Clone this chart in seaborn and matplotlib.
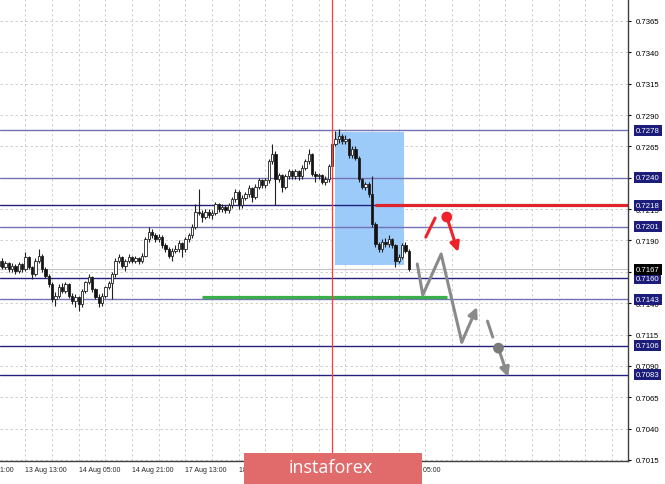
#AUD/USD H1 - fractal levels
import matplotlib
matplotlib.use('Agg')
import matplotlib.pyplot as plt
from matplotlib.patches import Rectangle
import seaborn as sns

#data (bar index, price)
opens = [0.7170, 0.7174, 0.7169, 0.7172, 0.7167, 0.7170, 0.7166, 0.7171, 0.7167, 0.7177,
         0.7169, 0.7163, 0.7174, 0.7178, 0.7167, 0.7162, 0.7155, 0.7143, 0.7146, 0.7153,
         0.7150, 0.7155, 0.7146, 0.7142, 0.7145, 0.7139, 0.7150, 0.7157, 0.7161, 0.7151,
         0.7145, 0.7140, 0.7146, 0.7153, 0.7156, 0.7163, 0.7174, 0.7177, 0.7170, 0.7174,
         0.7177, 0.7174, 0.7176, 0.7174, 0.7178, 0.7191, 0.7197, 0.7194, 0.7191, 0.7193,
         0.7186, 0.7183, 0.7178, 0.7182, 0.7183, 0.7188, 0.7183, 0.7191, 0.7194, 0.7201,
         0.7213, 0.7212, 0.7209, 0.7213, 0.7210, 0.7212, 0.7219, 0.7215, 0.7217, 0.7214,
         0.7218, 0.7223, 0.7229, 0.7218, 0.7224, 0.7227, 0.7232, 0.7225, 0.7233, 0.7238,
         0.7234, 0.7238, 0.7253, 0.7259, 0.7239, 0.7242, 0.7233, 0.7241, 0.7245, 0.7241,
         0.7245, 0.7241, 0.7248, 0.7253, 0.7259, 0.7243, 0.7241, 0.7242, 0.7237, 0.7239,
         0.7249, 0.7267, 0.7271, 0.7273, 0.7269, 0.7271, 0.7258, 0.7263, 0.7256, 0.7239,
         0.7233, 0.7235, 0.7227, 0.7203, 0.7187, 0.7183, 0.7189, 0.7187, 0.7191, 0.7186,
         0.7174, 0.7177, 0.7186, 0.7182]
highs = [0.7176, 0.7176, 0.7174, 0.7173, 0.7172, 0.7171, 0.7173, 0.7172, 0.7181, 0.7178,
         0.7170, 0.7176, 0.7183, 0.7179, 0.7169, 0.7163, 0.7157, 0.7149, 0.7155, 0.7156,
         0.7157, 0.7156, 0.7148, 0.7147, 0.7146, 0.7151, 0.7158, 0.7163, 0.7162, 0.7152,
         0.7147, 0.7148, 0.7154, 0.7158, 0.7165, 0.7176, 0.7179, 0.7178, 0.7175, 0.7179,
         0.7178, 0.7178, 0.7177, 0.7180, 0.7193, 0.7201, 0.7199, 0.7196, 0.7195, 0.7194,
         0.7188, 0.7185, 0.7184, 0.7186, 0.7190, 0.7189, 0.7193, 0.7196, 0.7203, 0.7219,
         0.7231, 0.7214, 0.7215, 0.7215, 0.7214, 0.7221, 0.7220, 0.7219, 0.7218, 0.7220,
         0.7225, 0.7231, 0.7230, 0.7226, 0.7229, 0.7234, 0.7233, 0.7235, 0.7240, 0.7239,
         0.7240, 0.7255, 0.7267, 0.7261, 0.7244, 0.7243, 0.7243, 0.7247, 0.7246, 0.7247,
         0.7246, 0.7250, 0.7255, 0.7263, 0.7260, 0.7245, 0.7244, 0.7243, 0.7241, 0.7251,
         0.7268, 0.7277, 0.7279, 0.7275, 0.7274, 0.7272, 0.7265, 0.7265, 0.7257, 0.7240,
         0.7237, 0.7237, 0.7241, 0.7205, 0.7189, 0.7191, 0.7192, 0.7194, 0.7192, 0.7187,
         0.7179, 0.7188, 0.7189, 0.7183]
lows = [0.7168, 0.7167, 0.7167, 0.7165, 0.7165, 0.7163, 0.7164, 0.7165, 0.7166, 0.7167,
        0.7159, 0.7162, 0.7172, 0.7165, 0.7160, 0.7153, 0.7141, 0.7138, 0.7144, 0.7148,
        0.7148, 0.7144, 0.7139, 0.7137, 0.7134, 0.7137, 0.7148, 0.7155, 0.7149, 0.7143,
        0.7137, 0.7138, 0.7144, 0.7151, 0.7143, 0.7161, 0.7172, 0.7168, 0.7166, 0.7172,
        0.7172, 0.7172, 0.7171, 0.7172, 0.7177, 0.7189, 0.7192, 0.7189, 0.7189, 0.7184,
        0.7181, 0.7176, 0.7174, 0.7180, 0.7181, 0.7177, 0.7181, 0.7189, 0.7192, 0.7199,
        0.7210, 0.7205, 0.7207, 0.7208, 0.7207, 0.7210, 0.7213, 0.7213, 0.7212, 0.7212,
        0.7216, 0.7221, 0.7215, 0.7216, 0.7222, 0.7225, 0.7221, 0.7223, 0.7231, 0.7232,
        0.7232, 0.7236, 0.7251, 0.7218, 0.7237, 0.7229, 0.7231, 0.7239, 0.7239, 0.7239,
        0.7238, 0.7239, 0.7246, 0.7251, 0.7241, 0.7237, 0.7239, 0.7235, 0.7234, 0.7237,
        0.7247, 0.7265, 0.7268, 0.7267, 0.7267, 0.7256, 0.7256, 0.7254, 0.7237, 0.7231,
        0.7230, 0.7225, 0.7201, 0.7185, 0.7181, 0.7181, 0.7185, 0.7185, 0.7184, 0.7169,
        0.7172, 0.7175, 0.7180, 0.7166]
closes = [0.7174, 0.7169, 0.7172, 0.7167, 0.7170, 0.7166, 0.7171, 0.7167, 0.7177, 0.7169,
          0.7163, 0.7174, 0.7178, 0.7167, 0.7162, 0.7155, 0.7143, 0.7146, 0.7153, 0.7150,
          0.7155, 0.7146, 0.7142, 0.7145, 0.7139, 0.7150, 0.7157, 0.7161, 0.7151, 0.7145,
          0.7140, 0.7146, 0.7153, 0.7156, 0.7163, 0.7174, 0.7177, 0.7170, 0.7174, 0.7177,
          0.7174, 0.7176, 0.7174, 0.7178, 0.7191, 0.7197, 0.7194, 0.7191, 0.7193, 0.7186,
          0.7183, 0.7178, 0.7182, 0.7183, 0.7188, 0.7183, 0.7191, 0.7194, 0.7201, 0.7213,
          0.7212, 0.7209, 0.7213, 0.7210, 0.7212, 0.7219, 0.7215, 0.7217, 0.7214, 0.7218,
          0.7223, 0.7229, 0.7218, 0.7224, 0.7227, 0.7232, 0.7225, 0.7233, 0.7238, 0.7234,
          0.7238, 0.7253, 0.7259, 0.7239, 0.7242, 0.7233, 0.7241, 0.7245, 0.7241, 0.7245,
          0.7241, 0.7248, 0.7253, 0.7259, 0.7243, 0.7241, 0.7242, 0.7237, 0.7239, 0.7249,
          0.7267, 0.7271, 0.7273, 0.7269, 0.7271, 0.7258, 0.7263, 0.7256, 0.7239, 0.7233,
          0.7235, 0.7227, 0.7203, 0.7187, 0.7183, 0.7189, 0.7187, 0.7191, 0.7186, 0.7174,
          0.7177, 0.7186, 0.7182, 0.7167]

#levels on the right axis
levels = [0.7278, 0.7240, 0.7218, 0.7201, 0.7160, 0.7143, 0.7106, 0.7083]
level_dark = [False, False, True, False, True, False, True, True]
bid = 0.7167
y_ticks = [0.7015, 0.7040, 0.7065, 0.7090, 0.7115, 0.7140, 0.7165, 0.7190,
           0.7215, 0.7240, 0.7265, 0.7290, 0.7315, 0.7340, 0.7365]

#time axis (labels under the logo are not visible in the original)
time_pos = [-8, 8, 24, 40, 56, 72, 120]
time_labels = ['12 Aug 21:00', '13 Aug 13:00', '14 Aug 05:00', '14 Aug 21:00',
               '17 Aug 13:00', '18 Aug 05:00', '20 Aug 05:00']
tick_pos = [8, 24, 40, 56, 72, 88, 104, 120]
grid_pos = [8, 16, 24, 32, 40, 48, 56, 64, 72, 80, 88, 96, 104, 112, 120,
            128, 136, 144, 152, 160, 168, 176, 184]

#markup
vline_bar = 100
box_x = [100.9, 121.6]
box_y = [0.71704, 0.72765]
red_level = [112.9, 0.7218]
green_level = [61.0, 134.5, 0.71452]
zig_x = [125.55, 127.2, 132.7, 138.9, 143.5]
zig_y = [0.71712, 0.71465, 0.71792, 0.71090, 0.71369]
dash_x = [146.6, 148.2]
dash_y = [0.71257, 0.71130]
gray_dot = [149.9, 0.71042]
gray_end = [152.8, 0.70811]
red_x = [128.1, 130.9]
red_y = [0.71927, 0.72079]
red_dot = [134.4, 0.72087]
red_end = [137.8, 0.71808]

sns.set_style('white')
plt.rcParams['font.family'] = ['Liberation Sans', 'DejaVu Sans']

fig = plt.figure(figsize=(6.65, 4.85), dpi=100)
ax = fig.add_axes([0, 23 / 485, 628 / 665, 462 / 485])
ax.set_xlim(0.35, 188.77)
ax.set_ylim(0.70142, 0.73825)

#grid
for g in grid_pos:
    ax.axvline(g, color='#c8c8c8', lw=0.6, ls=(0, (3, 3)), zorder=0)
for t in y_ticks:
    ax.axhline(t, color='#c8c8c8', lw=0.6, ls=(0, (3, 3)), zorder=0)

#blue zone
ax.add_patch(Rectangle((box_x[0], box_y[0]), box_x[1] - box_x[0], box_y[1] - box_y[0],
                       facecolor='#9ccbfa', edgecolor='none', zorder=1))

#levels
for lv, dark in zip(levels, level_dark):
    ax.axhline(lv, color='#22227e' if dark else '#7272b4', lw=1.0, zorder=2)
ax.axhline(bid, color='#c4c4c4', lw=0.8, zorder=2)
ax.plot([red_level[0], 189], [red_level[1], red_level[1]], color='#e0242c', lw=2.3,
        solid_capstyle='butt', zorder=2)
ax.plot([green_level[0], green_level[1]], [green_level[2], green_level[2]],
        color='#3aae48', lw=2.3, solid_capstyle='butt', zorder=2)

#candles
bars = list(range(len(closes)))
ax.vlines(bars, lows, highs, color='#202020', lw=0.8, zorder=3)
for i, o, c in zip(bars, opens, closes):
    bull = c >= o
    h = max(abs(c - o), 0.00003)
    ax.bar(i, h, bottom=min(o, c), width=0.75, color='white' if bull else '#111111',
           edgecolor='#202020', linewidth=0.6, zorder=4)

#red vertical line
ax.axvline(vline_bar, ymin=-0.07, ymax=1, color='#ff3b3b', lw=0.9, zorder=5, clip_on=False)

#forecast arrows
sns.lineplot(x=zig_x[:-1], y=zig_y[:-1], color='#8a8a8a', lw=2.2, sort=False, ax=ax, zorder=6)
ax.annotate('', xy=(zig_x[-1], zig_y[-1]), xytext=(zig_x[-2], zig_y[-2]),
            arrowprops=dict(arrowstyle='-|>', color='#8a8a8a', lw=2.2, mutation_scale=14,
                            shrinkA=0, shrinkB=0), zorder=6)
ax.plot(dash_x, dash_y, color='#8a8a8a', lw=2.2, zorder=6)
ax.annotate('', xy=(gray_end[0], gray_end[1]), xytext=(gray_dot[0], gray_dot[1]),
            arrowprops=dict(arrowstyle='-|>', color='#8a8a8a', lw=2.2, mutation_scale=14,
                            shrinkA=0, shrinkB=0), zorder=6)
sns.scatterplot(x=[gray_dot[0]], y=[gray_dot[1]], color='#7a7a7a', s=60, ax=ax,
                edgecolor='none', zorder=7)
ax.plot(red_x, red_y, color='#ee2228', lw=2.2, zorder=6)
ax.annotate('', xy=(red_end[0], red_end[1]), xytext=(red_dot[0], red_dot[1]),
            arrowprops=dict(arrowstyle='-|>', color='#ee2228', lw=2.2, mutation_scale=14,
                            shrinkA=0, shrinkB=0), zorder=6)
sns.scatterplot(x=[red_dot[0]], y=[red_dot[1]], color='#ee2228', s=60, ax=ax,
                edgecolor='none', zorder=7)

#axes look
sns.despine(ax=ax, left=True, top=True, right=False, bottom=False)
for s in ['right', 'bottom']:
    ax.spines[s].set_color('#404040')
    ax.spines[s].set_linewidth(1.0)
ax.yaxis.tick_right()
ax.set_yticks(y_ticks)
ax.set_yticklabels([f'{t:.4f}' for t in y_ticks], fontsize=5.6)
ax.tick_params(axis='y', length=2.5, width=0.8, pad=3, colors='black')
ax.set_xticks(tick_pos)
ax.set_xticklabels([])
ax.tick_params(axis='x', length=2.5, width=0.8, colors='black')
for p, lab in zip(time_pos, time_labels):
    ax.text(p, -0.011, lab, transform=ax.get_xaxis_transform(),
            fontsize=5, ha='left', va='top', clip_on=False)

#level labels
for lv in levels:
    ax.text(1.0125, lv, f'{lv:.4f}', transform=ax.get_yaxis_transform(), fontsize=5.6,
            color='white', ha='left', va='center', clip_on=False, zorder=10,
            bbox=dict(boxstyle='square,pad=0.25', fc='#1c1c7a', ec='none'))
ax.text(1.0125, bid, f'{bid:.4f}', transform=ax.get_yaxis_transform(), fontsize=5.6,
        color='white', ha='left', va='center', clip_on=False, zorder=10,
        bbox=dict(boxstyle='square,pad=0.25', fc='black', ec='none'))

#logo
fig.patches.append(Rectangle((244 / 665, 0), 178 / 665, 31 / 485, transform=fig.transFigure,
                             facecolor='#e16a6a', edgecolor='none', zorder=20))
fig.text(331 / 665, 1 - 468 / 485, 'instaforex', color='white', fontsize=13,
         family='Open Sans', ha='center', va='center', zorder=21)

plt.savefig('out.png', dpi=100)
